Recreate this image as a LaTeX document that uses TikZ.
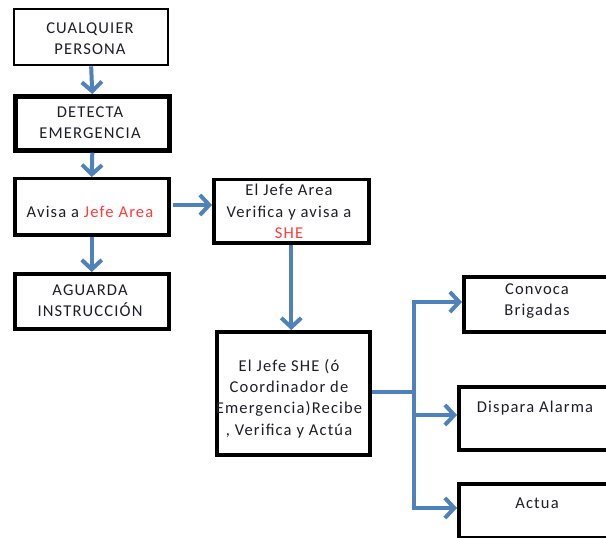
\documentclass[tikz,border=0pt]{standalone}
\usepackage{fontspec}
\setmainfont{Carlito}[LetterSpace=7]
\usetikzlibrary{arrows.meta}
\definecolor{flow}{HTML}{4F81BD}
\definecolor{hl}{HTML}{FF3B3B}
\definecolor{ink}{HTML}{1E1E28}
\newdimen\pxu
\pxu=0.75pt
\begin{document}
\begin{tikzpicture}[x=\pxu, y=-\pxu,
  box/.style={draw=black, line width=3.5\pxu, inner sep=0pt, anchor=north west},
  txt/.style={align=center, text=ink, inner sep=0pt,
    font=\fontsize{12.4pt}{16.1pt}\selectfont},
  arr/.style={draw=flow, line width=4\pxu,
    -{Straight Barb[length=7pt,width=15pt]}},
  link/.style={draw=flow, line width=4\pxu}]
\path[use as bounding box, fill=white] (0,0) rectangle (606,538);
\clip (0,0) rectangle (606,538);

% boxes: top-left corner, width x height
\node[box, line width=2.3\pxu, minimum width=154\pxu, minimum height=56\pxu] (b1) at (13,8) {};
\node[box, line width=4.6\pxu, minimum width=154\pxu, minimum height=54\pxu] (b2) at (13,94) {};
\node[box, minimum width=154\pxu, minimum height=56\pxu] (b3) at (13,177) {};
\node[box, minimum width=154\pxu, minimum height=55\pxu] (b4) at (13,272) {};
\node[box, minimum width=155\pxu, minimum height=63\pxu] (b5) at (212,178) {};
\node[box, minimum width=153\pxu, minimum height=123\pxu] (b6) at (215,330) {};
\node[box, minimum width=150\pxu, minimum height=55\pxu] (b7) at (462,275) {};
\node[box, minimum width=160\pxu, minimum height=63\pxu] (b8) at (457,385) {};
\node[box, minimum width=160\pxu, minimum height=54\pxu] (b9) at (457,482) {};

% box texts
\node[txt] (t1) at (90,38.5) {CUALQUIER\\PERSONA};
\node[txt] (t2) at (90,122.5) {DETECTA\\EMERGENCIA};
\node[txt] (t3) at (90,212) {Avisa a {\color{hl}Jefe Area}};
\node[txt] (t4) at (90,300.5) {AGUARDA\\INSTRUCCIÓN};
\node[txt] (t5) at (289,211.5) {El Jefe Area\\Verifica y avisa a\\{\color{hl}SHE}};
\node[txt] (t6) at (289,398.5) {El Jefe SHE (ó\\Coordinador de\\Emergencia)Recibe\\, Verifica y Actúa};
\node[txt] (t7) at (537,301) {Convoca\\Brigadas};
\node[txt] (t8) at (535,408) {Dispara Alarma};
\node[txt] (t9) at (537,503) {Actua};

% junction points
\coordinate (a3) at (173,205);
\coordinate (j) at (414,392);
\coordinate (jt) at (414,302);
\coordinate (jd) at (414,415);
\coordinate (jb) at (414,508);

% connectors
\draw[arr] (b1.south) -- (b2.north);
\draw[arr] (b2.south) -- (b3.north);
\draw[arr] (b3.south) -- (b4.north);
\draw[arr] (a3) -- (a3 -| b5.west);
\draw[arr] (b5.south) -- (b5.south |- b6.north);
\draw[link] (b6.east |- j) -- (j);
\draw[link] ([yshift=2\pxu]jt) -- ([yshift=-2\pxu]jb);
\draw[arr] (jt) -- (jt -| b7.west);
\draw[arr] (jd) -- (jd -| b8.west);
\draw[arr] (jb) -- (jb -| b9.west);
\end{tikzpicture}
\end{document}
